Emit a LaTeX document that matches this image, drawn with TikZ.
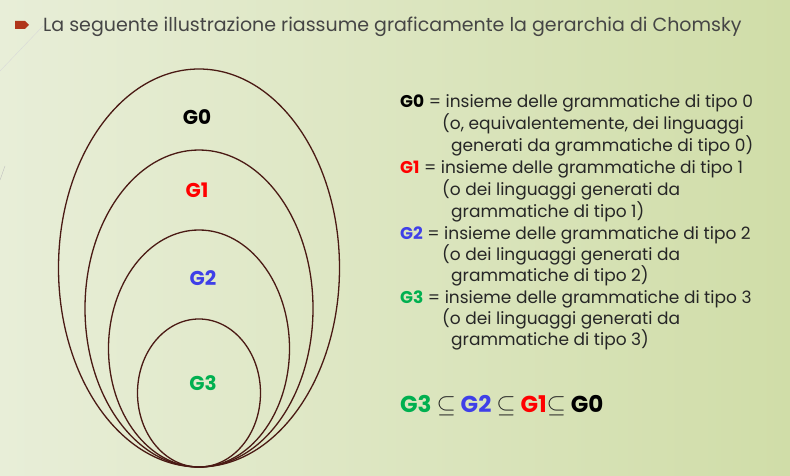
\documentclass[tikz,border=0pt]{standalone}
\usepackage{fontspec}
\setmainfont{Poppins}
\usetikzlibrary{shapes.geometric, positioning}
\definecolor{setbrown}{HTML}{4A1A14}
\definecolor{textgray}{HTML}{262626}
\definecolor{titlegray}{HTML}{454545}
\definecolor{bulletred}{HTML}{B0351A}
\definecolor{gred}{HTML}{FF0000}
\definecolor{gblue}{HTML}{3F3FE8}
\definecolor{ggreen}{HTML}{00B050}
\definecolor{bgleft}{HTML}{E8EED8}
\definecolor{bgmid}{HTML}{F9FBF3}
\definecolor{bgright}{HTML}{D0DDA8}
\tikzset{
  set/.style={ellipse, draw=setbrown, line width=1.3pt, inner sep=0pt},
  setlabel/.style={font=\bfseries\fontsize{20}{24}\selectfont},
  defline/.style={anchor=base west, inner sep=0pt, text=textgray,
                  font=\fontsize{17}{20}\selectfont}
}

\begin{document}
\begin{tikzpicture}[x=1pt, y=-1pt]
    % background
    \shade[left color=bgleft, middle color=bgmid, right color=bgright]
        (0,0) rectangle (790,476);
    \useasboundingbox (0,0) rectangle (790,476);
    \draw[black!15] (43,26) -- (0,71);
    \draw[black!25] (5,166) -- (0,180);

    % title
    \fill[bulletred] (15,21) -- (25,21) -- (29,25) -- (25,29) -- (15,29) -- cycle;
    \node[anchor=base west, inner sep=0pt, text=titlegray,
          font=\fontsize{19}{22}\selectfont] (title) at (43,32)
        {La seguente illustrazione riassume graficamente la gerarchia di Chomsky};

    % nested sets
    \node[set, minimum width=281pt, minimum height=398pt] (g0) at (199,268) {};
    \node[set, minimum width=228pt, minimum height=317pt] (g1) at (199,308.5) {};
    \node[set, minimum width=181pt, minimum height=237pt] (g2) at (199,348.5) {};
    \node[set, minimum width=123pt, minimum height=148pt] (g3) at (199,393) {};

    \node[setlabel] (l0) at (197,117) {G0};
    \node[setlabel, text=gred] (l1) at (197,190) {G1};
    \node[setlabel, text=gblue] (l2) at (203,278) {G2};
    \node[setlabel, text=ggreen] (l3) at (203,383) {G3};

    % definitions
    \node[defline] (d0) at (400,108) {\textbf{\textcolor{black}{G0}} = insieme delle grammatiche di tipo 0};
    \node[defline] (d0a) at (442,130) {(o, equivalentemente, dei linguaggi};
    \node[defline] (d0b) at (451,152) {generati da grammatiche di tipo 0)};
    \node[defline] (d1) at (400,173) {\textbf{\textcolor{gred}{G1}} = insieme delle grammatiche di tipo 1};
    \node[defline] (d1a) at (442,195) {(o dei linguaggi generati da};
    \node[defline] (d1b) at (451,217) {grammatiche di tipo 1)};
    \node[defline] (d2) at (400,239) {\textbf{\textcolor{gblue}{G2}} = insieme delle grammatiche di tipo 2};
    \node[defline] (d2a) at (442,260) {(o dei linguaggi generati da};
    \node[defline] (d2b) at (451,281) {grammatiche di tipo 2)};
    \node[defline] (d3) at (400,303) {\textbf{\textcolor{ggreen}{G3}} = insieme delle grammatiche di tipo 3};
    \node[defline] (d3a) at (442,324) {(o dei linguaggi generati da};
    \node[defline] (d3b) at (451,345) {grammatiche di tipo 3)};

    % chain
    \node[defline, font=\bfseries\fontsize{23}{27}\selectfont] (chain) at (400,412)
        {\textcolor{ggreen}{G3} $\subseteq$ \textcolor{gblue}{G2} $\subseteq$ \textcolor{gred}{G1}$\subseteq$ \textcolor{black}{G0}};
\end{tikzpicture}
\end{document}
